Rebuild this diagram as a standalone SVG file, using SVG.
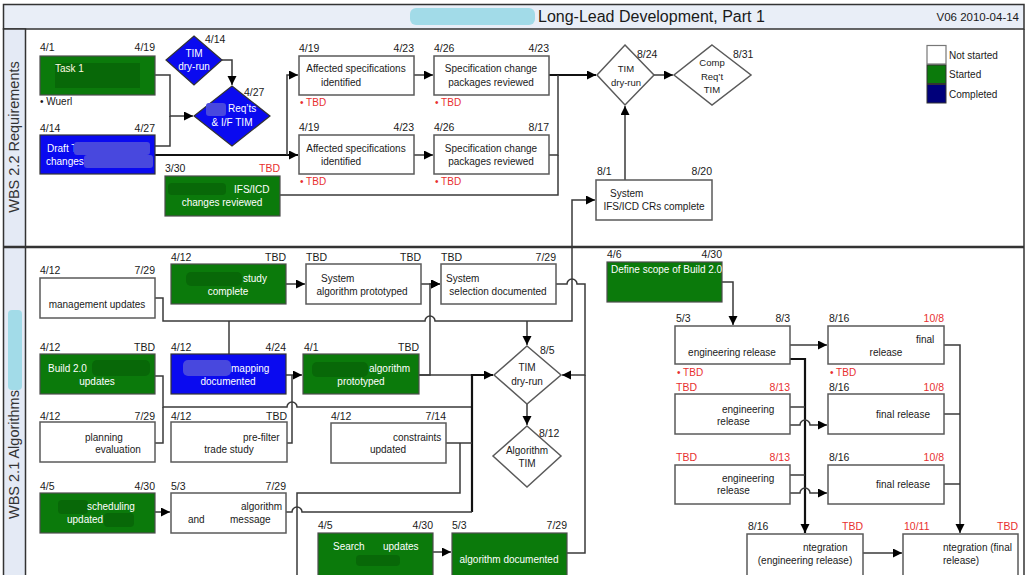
<svg xmlns="http://www.w3.org/2000/svg" width="1030" height="575" viewBox="0 0 1030 575">
<defs>
<marker id="ah" markerUnits="userSpaceOnUse" markerWidth="10" markerHeight="10" refX="9" refY="4.5" orient="auto"><path d="M0,0 L9,4.5 L0,9 z" fill="#000"/></marker>
</defs>
<style>
text{font-family:"Liberation Sans",Arial,sans-serif}
.d{font-size:10.5px;fill:#1a1a1a}
.dr{font-size:10.5px;fill:#e8302f}
.e{text-anchor:end}
.m{text-anchor:middle}
.t{font-size:10px;fill:#1a1a1a}
.tw{font-size:10px;fill:#fff}
.w{fill:#fff;stroke:#5a5a5a;stroke-width:1.5}
.g{fill:#0b7a0b;stroke:#4d4d4d;stroke-width:1.2}
.b{fill:#0a0af0;stroke:#333;stroke-width:1.2}
.c{fill:none;stroke:#3a3a3a;stroke-width:1.5}
.k{fill:none;stroke:#111;stroke-width:2.2}
.a{marker-end:url(#ah)}
.rg{fill:#086808}
.rb{fill:#4848de}
</style>
<rect x="0" y="0" width="1030" height="575" fill="#fff"/>
<g id="frame">
<rect x="3.5" y="4.5" width="1020.5" height="24.5" fill="#e9eef7" stroke="#333" stroke-width="1.5"/>
<rect x="3.5" y="29" width="22" height="550" fill="#e4eaf5" stroke="#333" stroke-width="1.5"/>
<line x1="1024" y1="29" x2="1024" y2="575" stroke="#333" stroke-width="1.5"/>
<line x1="3" y1="247" x2="1024" y2="247" stroke="#333" stroke-width="2.5"/>
<rect x="410" y="8" width="125" height="17" rx="6" fill="#a2dbe8"/>
<text x="538" y="22" font-size="16" fill="#1a1a1a">Long-Lead Development, Part 1</text>
<text x="1019" y="21" font-size="11.5" fill="#1a1a1a" text-anchor="end">V06 2010-04-14</text>
<text transform="translate(19,137) rotate(-90)" font-size="14.5" fill="#333" text-anchor="middle">WBS 2.2 Requirements</text>
<text transform="translate(19,519) rotate(-90)" font-size="14.5" fill="#333">WBS 2.1 Algorithms</text>
<rect x="8" y="310" width="14" height="80" rx="4" fill="#a2dbe8"/>
</g>
<g id="legend">
<rect x="927" y="45.5" width="19" height="18.5" fill="#fff" stroke="#777" stroke-width="1.2"/>
<rect x="927" y="65" width="19" height="18.5" fill="#0b7a0b" stroke="#333"/>
<rect x="927" y="84.5" width="19" height="18.5" fill="#00007a" stroke="#333"/>
<text class="t" x="949" y="59">Not started</text>
<text class="t" x="949" y="78">Started</text>
<text class="t" x="949" y="98">Completed</text>
</g>
<g id="connectors">
<path class="c a" d="M222,60 H232 V85"/>
<path class="c a" d="M155,75 H170 V116 H193"/>
<path class="c" d="M155,146 H170 V116"/>
<path class="k a" d="M155,155 H298"/>
<path class="c a" d="M287,155 V75 H298"/>
<path class="c a" d="M414,75 H433"/>
<path class="c a" d="M414,155 H433"/>
<path class="k a" d="M549,75 H596"/>
<path class="c" d="M549,155 H558 V75"/>
<path class="c" d="M280,195 H558 V155"/>
<path class="c a" d="M654,75 H673"/>
<path class="c a" d="M625,180 V106"/>
<path class="c a" d="M155,298 H163 V321 H425 a5,5 0 0 1 10,0 H572 V200 H595"/>
<path class="c a" d="M527,321 V345"/>
<path class="c" d="M229,321 V354"/>
<path class="c a" d="M286,284 H305"/>
<path class="c a" d="M421,284 H440"/>
<path class="c a" d="M419,375 H430 V284 H440"/>
<path class="c a" d="M556,284 H567 a5,5 0 0 1 10,0 H585 V375 H562"/>
<path class="c" d="M567,553 H585 V375"/>
<path class="c a" d="M286,375 H302"/>
<path class="c" d="M287,443 H292 V375"/>
<path class="c" d="M155,376 H163 V407 H287 a5,5 0 0 1 10,0 H472"/>
<path class="c" d="M155,443 H163 V407"/>
<path class="c" d="M419,375 H472"/>
<path class="k a" d="M472,512 V375 H493"/>
<path class="c" d="M446,443 H472"/>
<path class="c" d="M460,443 V493 H297 V575"/>
<path class="c" d="M286,512 H292 a5,5 0 0 1 10,0 H472"/>
<path class="c a" d="M155,512 H170"/>
<path class="c a" d="M433,552 H451"/>
<path class="c a" d="M527,404 V425"/>
<path class="c a" d="M722,282 H733 V325"/>
<path class="c a" d="M790,345 H827"/>
<path class="k a" d="M790,359 H805 V533"/>
<path class="c" d="M790,407 H805"/>
<path class="c a" d="M790,425 H800 a5,5 0 0 1 10,0 H827"/>
<path class="c" d="M790,475 H805"/>
<path class="c a" d="M790,493 H800 a5,5 0 0 1 10,0 H827"/>
<path class="c a" d="M944,345 H960 V533"/>
<path class="c" d="M944,414 H960"/>
<path class="c" d="M944,484 H960"/>
<path class="c a" d="M863,553 H902"/>
</g>
<g id="task1">
<rect class="g" x="40" y="56" width="115" height="39"/>
<rect class="rg" x="55" y="63" width="85" height="25"/>
<text class="tw" x="55" y="72" style="fill:#fffbe0">Task 1</text>
<text class="d" x="40" y="51">4/1</text><text class="d e" x="155" y="51">4/19</text>
<text class="t" x="40" y="105">•  Wuerl</text>
</g>
<g id="tim-dryrun-1">
<polygon class="b" points="194,36 222,60 194,85 166,60"/>
<text class="tw m" x="194" y="57">TIM</text><text class="tw m" x="194" y="70">dry-run</text>
<text class="d" x="205" y="43">4/14</text>
</g>
<g id="reqts-tim">
<polygon class="b" points="232,86 270,116 232,146 194,116"/>
<rect class="rb" x="206" y="103" width="20" height="13" rx="3"/>
<text class="tw" x="228" y="112">Req’ts</text><text class="tw m" x="232" y="126">&amp; I/F TIM</text>
<text class="d" x="244" y="96">4/27</text>
</g>
<g id="draft">
<rect class="b" x="40" y="135" width="115" height="39"/>
<text class="tw" x="47" y="152">Draft T</text><text class="tw" x="46" y="165">changes</text>
<rect class="rb" x="74" y="142" width="76" height="13" rx="3"/><rect class="rb" x="84" y="155" width="69" height="13" rx="3"/>
<text class="d" x="40" y="132">4/14</text><text class="d e" x="155" y="132">4/27</text>
</g>
<g id="ifs-icd">
<rect class="g" x="165" y="176" width="115" height="40"/>
<rect class="rg" x="168" y="183" width="58" height="12" rx="4"/>
<text class="tw" x="234" y="193">IFS/ICD</text><text class="tw m" x="222" y="206">changes reviewed</text>
<text class="d" x="165" y="172">3/30</text><text class="dr e" x="280" y="172">TBD</text>
</g>
<g id="affected-1">
<rect class="w" x="299" y="56" width="115" height="39"/>
<text class="t m" x="356" y="72">Affected specifications</text><text class="t m" x="341" y="86">identified</text>
<text class="d" x="299" y="52">4/19</text><text class="d e" x="414" y="52">4/23</text>
<text class="dr" x="300" y="106" style="font-size:10px">•  TBD</text>
</g>
<g id="specpkg-1">
<rect class="w" x="434" y="56" width="115" height="39"/>
<text class="t m" x="491" y="72">Specification change</text><text class="t m" x="491" y="86">packages reviewed</text>
<text class="d" x="434" y="52">4/26</text><text class="d e" x="549" y="52">4/23</text>
<text class="dr" x="435" y="106" style="font-size:10px">•  TBD</text>
</g>
<g id="affected-2">
<rect class="w" x="299" y="135" width="115" height="39"/>
<text class="t m" x="356" y="152">Affected specifications</text><text class="t m" x="341" y="165">identified</text>
<text class="d" x="299" y="131">4/19</text><text class="d e" x="414" y="131">4/23</text>
<text class="dr" x="300" y="185" style="font-size:10px">•  TBD</text>
</g>
<g id="specpkg-2">
<rect class="w" x="434" y="135" width="115" height="39"/>
<text class="t m" x="491" y="152">Specification change</text><text class="t m" x="491" y="165">packages reviewed</text>
<text class="d" x="434" y="131">4/26</text><text class="d e" x="549" y="131">8/17</text>
<text class="dr" x="435" y="185" style="font-size:10px">•  TBD</text>
</g>
<g id="tim-dryrun-2">
<polygon class="w" points="625,45 654,75 625,105 597,75"/>
<text class="t m" x="626" y="72" style="font-size:9.5px">TIM</text><text class="t m" x="626" y="86" style="font-size:9.5px">dry-run</text>
<text class="d" x="637" y="58">8/24</text>
</g>
<g id="comp-req-tim">
<polygon class="w" points="712,45 751,75 712,105 674,75"/>
<text class="t m" x="712" y="66" style="font-size:9.5px">Comp</text><text class="t m" x="712" y="80" style="font-size:9.5px">Req’t</text><text class="t m" x="712" y="93" style="font-size:9.5px">TIM</text>
<text class="d" x="733" y="58">8/31</text>
</g>
<g id="system-ifs">
<rect class="w" x="596" y="180" width="116" height="40"/>
<text class="t" x="610" y="197">System</text><text class="t m" x="654" y="210">IFS/ICD CRs complete</text>
<text class="d" x="597" y="175">8/1</text><text class="d e" x="712" y="175">8/20</text>
</g>
<g id="mgmt-updates">
<rect class="w" x="40" y="278" width="115" height="40"/>
<text class="t m" x="97" y="308">management updates</text>
<text class="d" x="40" y="274">4/12</text><text class="d e" x="155" y="274">7/29</text>
</g>
<g id="study">
<rect class="g" x="171" y="264" width="115" height="40"/>
<rect class="rg" x="186" y="272" width="56" height="14" rx="5"/>
<text class="tw" x="243" y="282">study</text><text class="tw m" x="228" y="295">complete</text>
<text class="d" x="171" y="261">4/12</text><text class="d e" x="286" y="261">TBD</text>
</g>
<g id="sys-alg-proto">
<rect class="w" x="306" y="264" width="115" height="40"/>
<text class="t" x="321" y="282">System</text><text class="t m" x="362" y="295">algorithm prototyped</text>
<text class="d" x="306" y="261">TBD</text><text class="d e" x="421" y="261">TBD</text>
</g>
<g id="sys-selection">
<rect class="w" x="441" y="264" width="115" height="40"/>
<text class="t" x="446" y="282">System</text><text class="t m" x="498" y="295">selection documented</text>
<text class="d" x="441" y="261">TBD</text><text class="d e" x="556" y="261">7/29</text>
</g>
<g id="build20">
<rect class="g" x="40" y="354" width="115" height="40"/>
<rect class="rg" x="92" y="360" width="58" height="16" rx="5"/>
<text class="tw" x="48" y="372">Build 2.0</text><text class="tw m" x="97" y="385">updates</text>
<text class="d" x="40" y="351">4/12</text><text class="d e" x="155" y="351">TBD</text>
</g>
<g id="mapping">
<rect class="b" x="171" y="354" width="115" height="40"/>
<rect class="rb" x="183" y="360" width="48" height="16" rx="5"/>
<text class="tw" x="231" y="372">mapping</text><text class="tw m" x="228" y="385">documented</text>
<text class="d" x="171" y="351">4/12</text><text class="d e" x="286" y="351">4/24</text>
</g>
<g id="alg-proto">
<rect class="g" x="303" y="354" width="116" height="40"/>
<rect class="rg" x="312" y="362" width="56" height="15" rx="5"/>
<text class="tw" x="369" y="372">algorithm</text><text class="tw m" x="361" y="385">prototyped</text>
<text class="d" x="304" y="351">4/1</text><text class="d e" x="419" y="351">TBD</text>
</g>
<g id="planning">
<rect class="w" x="40" y="422" width="115" height="40"/>
<text class="t" x="85" y="441">planning</text><text class="t m" x="118" y="453">evaluation</text>
<text class="d" x="40" y="420">4/12</text><text class="d e" x="155" y="420">7/29</text>
</g>
<g id="prefilter">
<rect class="w" x="171" y="422" width="116" height="40"/>
<text class="t" x="243" y="441">pre-filter</text><text class="t m" x="229" y="453">trade study</text>
<text class="d" x="171" y="420">4/12</text><text class="d e" x="287" y="420">TBD</text>
</g>
<g id="constraints">
<rect class="w" x="331" y="423" width="115" height="40"/>
<text class="t" x="393" y="441">constraints</text><text class="t m" x="388" y="453">updated</text>
<text class="d" x="331" y="420">4/12</text><text class="d e" x="446" y="420">7/14</text>
</g>
<g id="scheduling">
<rect class="g" x="40" y="493" width="115" height="40"/>
<rect class="rg" x="58" y="500" width="30" height="14" rx="4"/><rect class="rg" x="104" y="513" width="30" height="14" rx="4"/>
<text class="tw" x="87" y="510">scheduling</text><text class="tw" x="67" y="523">updated</text>
<text class="d" x="40" y="490">4/5</text><text class="d e" x="155" y="490">4/30</text>
</g>
<g id="alg-message">
<rect class="w" x="171" y="493" width="115" height="40"/>
<text class="t" x="241" y="510">algorithm</text><text class="t" x="188" y="523">and</text><text class="t" x="230" y="523">message</text>
<text class="d" x="171" y="490">5/3</text><text class="d e" x="286" y="490">7/29</text>
</g>
<g id="search">
<rect class="g" x="318" y="533" width="115" height="45"/>
<rect class="rg" x="356" y="555" width="44" height="11" rx="4"/>
<text class="tw" x="333" y="550">Search</text><text class="tw" x="383" y="550">updates</text>
<text class="d" x="318" y="529">4/5</text><text class="d e" x="433" y="529">4/30</text>
</g>
<g id="alg-documented">
<rect class="g" x="452" y="533" width="115" height="45"/>
<text class="tw m" x="509" y="563">algorithm documented</text>
<text class="d" x="452" y="529">5/3</text><text class="d e" x="567" y="529">7/29</text>
</g>
<g id="tim-dryrun-3">
<polygon class="w" points="527,346 561,375 527,404 494,375"/>
<text class="t m" x="527" y="371">TIM</text><text class="t m" x="527" y="385">dry-run</text>
<text class="d" x="540" y="354">8/5</text>
</g>
<g id="algorithm-tim">
<polygon class="w" points="527,426 561,456 527,487 493,456"/>
<text class="t m" x="527" y="454">Algorithm</text><text class="t m" x="527" y="467">TIM</text>
<text class="d" x="539" y="437">8/12</text>
</g>
<g id="define-scope">
<rect class="g" x="607" y="262" width="115" height="40"/>
<text class="tw" x="611" y="273">Define scope of Build 2.0</text>
<text class="d" x="607" y="258">4/6</text><text class="d e" x="722" y="258">4/30</text>
</g>
<g id="eng-release-1">
<rect class="w" x="675" y="326" width="115" height="38"/>
<text class="t m" x="732" y="356">engineering release</text>
<text class="d" x="676" y="322">5/3</text><text class="d e" x="790" y="322">8/3</text>
<text class="dr" x="677" y="376" style="font-size:10px">•  TBD</text>
</g>
<g id="final-release-1">
<rect class="w" x="828" y="326" width="116" height="38"/>
<text class="t" x="916" y="343">final</text><text class="t m" x="886" y="356">release</text>
<text class="d" x="829" y="322">8/16</text><text class="dr e" x="944" y="322">10/8</text>
<text class="dr" x="830" y="376" style="font-size:10px">•  TBD</text>
</g>
<g id="eng-release-2">
<rect class="w" x="675" y="394" width="115" height="40"/>
<text class="t" x="722" y="413">engineering</text><text class="t" x="717" y="425">release</text>
<text class="dr" x="676" y="391">TBD</text><text class="dr e" x="790" y="391">8/13</text>
</g>
<g id="final-release-2">
<rect class="w" x="828" y="394" width="116" height="40"/>
<text class="t m" x="903" y="418">final release</text>
<text class="d" x="829" y="391">8/16</text><text class="dr e" x="944" y="391">10/8</text>
</g>
<g id="eng-release-3">
<rect class="w" x="675" y="465" width="115" height="39"/>
<text class="t" x="722" y="482">engineering</text><text class="t" x="717" y="494">release</text>
<text class="dr" x="676" y="461">TBD</text><text class="dr e" x="790" y="461">8/13</text>
</g>
<g id="final-release-3">
<rect class="w" x="828" y="465" width="116" height="39"/>
<text class="t m" x="903" y="488">final release</text>
<text class="d" x="829" y="461">8/16</text><text class="dr e" x="944" y="461">10/8</text>
</g>
<g id="integration-eng">
<rect class="w" x="747" y="534" width="116" height="45"/>
<text class="t" x="803" y="551">ntegration</text><text class="t m" x="805" y="564">(engineering release)</text>
<text class="d" x="748" y="530">8/16</text><text class="dr e" x="863" y="530">TBD</text>
</g>
<g id="integration-final">
<rect class="w" x="903" y="534" width="115" height="45"/>
<text class="t" x="943" y="551">ntegration (final</text><text class="t" x="943" y="564">release)</text>
<text class="dr" x="904" y="530">10/11</text><text class="dr e" x="1018" y="530">TBD</text>
</g>
</svg>
